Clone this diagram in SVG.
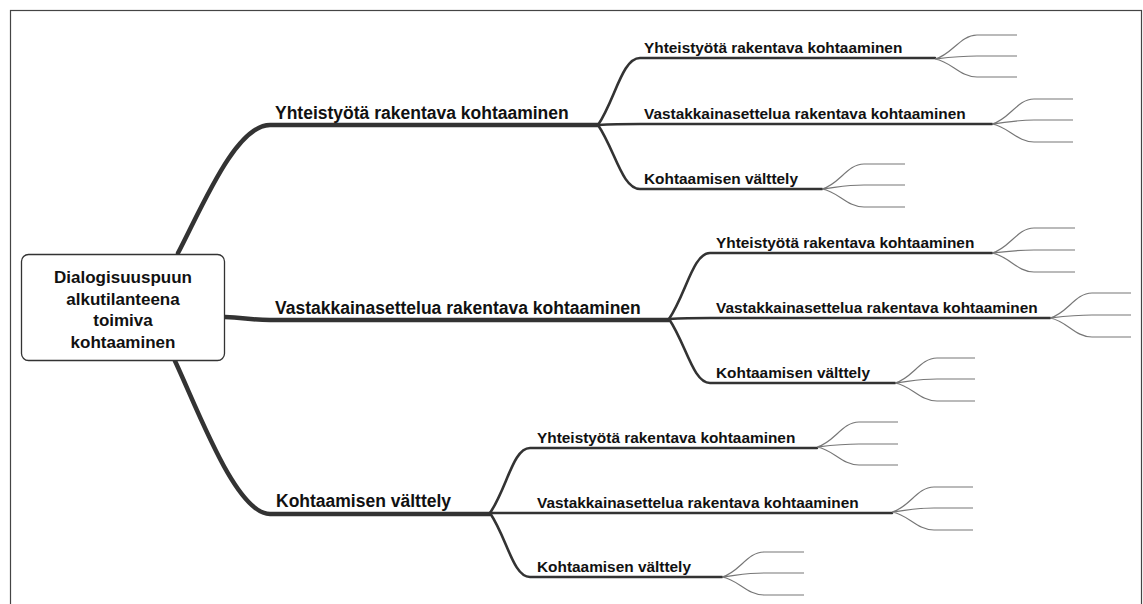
<svg xmlns="http://www.w3.org/2000/svg" width="1143" height="604" viewBox="0 0 1143 604">
<style>
text{font-family:"Liberation Sans",Arial,sans-serif;font-weight:bold;fill:#111}
.t0{font-size:17px;text-anchor:middle}
.t1{font-size:17.5px}
.t2{font-size:15.4px}
.l1{fill:none;stroke:#333;stroke-width:4.5;stroke-linecap:round}
.l2{fill:none;stroke:#333;stroke-width:2.6;stroke-linecap:round}
.l3{fill:none;stroke:#777;stroke-width:1.2}
</style>
<rect x="10.5" y="10.5" width="1131" height="700" fill="none" stroke="#444" stroke-width="1.2"/>
<g id="connectors">
<path class="l1" d="M178 253 C203 205,236 125,270 125 L598 125"/>
<path class="l1" d="M225 317 C245 318,252 320,270 320 L669 320"/>
<path class="l1" d="M175 361 C198 410,236 514,270 514 L490 514"/>
<path class="l2" d="M598 125 C615 100,622 58,640 58 L935 58"/>
<path class="l2" d="M598 125 C615 124,625 124,640 124 L992 124"/>
<path class="l2" d="M598 125 C615 150,622 189,640 189 L822 189"/>
<path class="l2" d="M669 319 C686 294,693 253,710 253 L992 253"/>
<path class="l2" d="M669 319 C686 318,696 318,710 318 L1050 318"/>
<path class="l2" d="M669 319 C686 344,693 383,710 383 L895 383"/>
<path class="l2" d="M490 513 C507 488,513 448,530 448 L817 448"/>
<path class="l2" d="M490 513 C507 513,517 513,530 513 L892 513"/>
<path class="l2" d="M490 513 C507 538,513 577,530 577 L722 577"/>
<g id="fans">
<path class="l3" d="M935 59 C952 55,960 35,977 35 L1017 35 M935 59 C952 57,960 56,977 56 L1017 56 M935 59 C952 62,960 77,977 77 L1017 77"/>
<path class="l3" d="M992 124 C1009 120,1017 99,1034 99 L1073 99 M992 124 C1009 122,1017 120,1034 120 L1073 120 M992 124 C1009 127,1017 142,1034 142 L1073 142"/>
<path class="l3" d="M822 189 C839 185,847 164,864 164 L905 164 M822 189 C839 187,847 185,864 185 L905 185 M822 189 C839 192,847 207,864 207 L905 207"/>
<path class="l3" d="M992 253 C1009 249,1017 228,1034 228 L1075 228 M992 253 C1009 251,1017 250,1034 250 L1075 250 M992 253 C1009 256,1017 272,1034 272 L1075 272"/>
<path class="l3" d="M1050 318 C1067 314,1075 293,1092 293 L1131 293 M1050 318 C1067 316,1075 315,1092 315 L1131 315 M1050 318 C1067 321,1075 337,1092 337 L1131 337"/>
<path class="l3" d="M895 383 C912 379,920 358,937 358 L975 358 M895 383 C912 381,920 379,937 379 L975 379 M895 383 C912 386,920 401,937 401 L975 401"/>
<path class="l3" d="M817 447 C834 443,842 422,859 422 L898 422 M817 447 C834 445,842 444,859 444 L898 444 M817 447 C834 450,842 465,859 465 L898 465"/>
<path class="l3" d="M892 512 C909 508,917 487,934 487 L973 487 M892 512 C909 510,917 508,934 508 L973 508 M892 512 C909 515,917 530,934 530 L973 530"/>
<path class="l3" d="M722 577 C739 573,747 552,764 552 L804 552 M722 577 C739 575,747 573,764 573 L804 573 M722 577 C739 580,747 595,764 595 L804 595"/>
</g>
</g>
<g id="root">
<rect x="21.5" y="254.5" width="203" height="106" rx="7" fill="#fff" stroke="#333" stroke-width="1.3"/>
<text class="t0" x="123" y="283">Dialogisuuspuun</text>
<text class="t0" x="123" y="304.5">alkutilanteena</text>
<text class="t0" x="123" y="326">toimiva</text>
<text class="t0" x="123" y="347.5">kohtaaminen</text>
</g>
<g id="n-a"><text class="t1" x="275" y="119">Yhteistyötä rakentava kohtaaminen</text></g>
<g id="n-b"><text class="t1" x="275" y="314">Vastakkainasettelua rakentava kohtaaminen</text></g>
<g id="n-c"><text class="t1" x="276" y="507">Kohtaamisen välttely</text></g>
<g id="n-a1"><text class="t2" x="644" y="53">Yhteistyötä rakentava kohtaaminen</text></g>
<g id="n-a2"><text class="t2" x="644" y="119">Vastakkainasettelua rakentava kohtaaminen</text></g>
<g id="n-a3"><text class="t2" x="644" y="184">Kohtaamisen välttely</text></g>
<g id="n-b1"><text class="t2" x="716" y="248">Yhteistyötä rakentava kohtaaminen</text></g>
<g id="n-b2"><text class="t2" x="716" y="313">Vastakkainasettelua rakentava kohtaaminen</text></g>
<g id="n-b3"><text class="t2" x="716" y="378">Kohtaamisen välttely</text></g>
<g id="n-c1"><text class="t2" x="537" y="443">Yhteistyötä rakentava kohtaaminen</text></g>
<g id="n-c2"><text class="t2" x="537" y="508">Vastakkainasettelua rakentava kohtaaminen</text></g>
<g id="n-c3"><text class="t2" x="537" y="572">Kohtaamisen välttely</text></g>
</svg>
